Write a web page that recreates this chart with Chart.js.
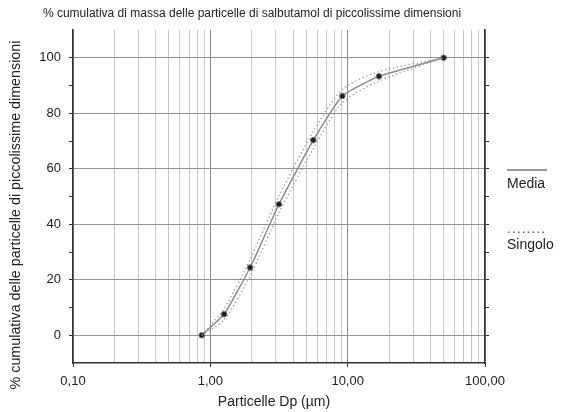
<!DOCTYPE html>
<html>
<head>
<meta charset="utf-8">
<script src="https://cdn.jsdelivr.net/npm/chart.js@4"></script>
<style>
  html, body { margin: 0; padding: 0; background: #fff; }
  #wrap { width: 567px; height: 412px; position: relative; }
</style>
</head>
<body>
<div id="wrap"><canvas id="chart" width="567" height="412"></canvas></div>
<script>
// diametri (µm) e % cumulativa
const diameters = [0.865, 1.26, 1.95, 3.16, 5.62, 9.15, 16.9, 50];
const media = [0, 7.6, 24.4, 47.2, 70.3, 86.2, 93.3, 100];
const singolo1 = [0, 9.6, 27.4, 50.2, 73.4, 88.6, 95, 100];
const singolo2 = [0, 5.6, 21.4, 44.2, 67.2, 83.8, 91.6, 100];

const xLabelValues = [0.1, 1, 10, 100];
const xLabelTexts = ['0,10', '1,00', '10,00', '100,00'];
const xDecades = [0.1, 1, 10];
const yLabelValues = [0, 20, 40, 60, 80, 100];

const titleText = '% cumulativa di massa delle particelle di salbutamol di piccolissime dimensioni';
const yTitleText = '% cumulativa delle particelle di piccolissime dimensioni';
const xTitleText = 'Particelle Dp (µm)';
const legendLabels = ['Media', 'Singolo'];

const FONT = '"Liberation Sans", Arial, sans-serif';

// tick positions for log axis: 1..9 in each decade plus 100
const xTicks = [];
xDecades.forEach(d => { for (let m = 1; m <= 9; m++) xTicks.push(+(d * m).toPrecision(3)); });
xTicks.push(100);

const near = (a, b) => Math.abs(a - b) < 1e-9 * Math.max(1, Math.abs(b));
const isMajorX = v => xLabelValues.some(l => near(v, l));

const pts = ys => diameters.map((d, i) => ({ x: d, y: ys[i] }));

const textPlugin = {
  id: 'texts',
  afterDraw(chart) {
    const c = chart.ctx;
    c.save();
    c.fillStyle = '#222';
    // title
    c.font = '12px ' + FONT;
    c.textAlign = 'center';
    c.textBaseline = 'middle';
    c.fillText(titleText, 252, 14);
    // x title
    c.font = '14px ' + FONT;
    c.fillText(xTitleText, 274, 402);
    // y title
    c.save();
    c.translate(16, 215);
    c.rotate(-Math.PI / 2);
    c.font = '14.3px ' + FONT;
    c.fillText(yTitleText, 0, 0);
    c.restore();
    // legend
    c.strokeStyle = '#777';
    c.lineWidth = 1.5;
    c.beginPath();
    c.moveTo(507, 170);
    c.lineTo(547, 170);
    c.stroke();
    c.textAlign = 'left';
    c.fillText(legendLabels[0], 507, 184);
    c.fillStyle = '#555';
    c.font = '14px ' + FONT;
    c.letterSpacing = '1px';
    c.fillText('........', 507, 229);
    c.letterSpacing = '0px';
    c.fillStyle = '#222';
    c.fillText(legendLabels[1], 507, 245);
    c.restore();
  }
};

const dotted = {
  showLine: true,
  borderColor: '#8a8a8a',
  borderWidth: 1.2,
  borderDash: [1.2, 2.8],
  pointRadius: 0,
  tension: 0.25,
  fill: false
};

new Chart(document.getElementById('chart').getContext('2d'), {
  type: 'scatter',
  data: {
    datasets: [
      Object.assign({ label: 'Singolo 1', data: pts(singolo1) }, dotted),
      Object.assign({ label: 'Singolo 2', data: pts(singolo2) }, dotted),
      {
        label: 'Media',
        data: pts(media),
        showLine: true,
        borderColor: '#8a8a8a',
        borderWidth: 1.5,
        tension: 0.15,
        pointRadius: 2.8,
        pointBackgroundColor: '#1e1e1e',
        pointBorderColor: '#777',
        pointBorderWidth: 1
      }
    ]
  },
  options: {
    responsive: false,
    animation: false,
    layout: { padding: { top: 30, left: 0, right: 0, bottom: 0 } },
    plugins: { legend: { display: false }, tooltip: { enabled: false } },
    scales: {
      x: {
        type: 'logarithmic',
        position: 'bottom',
        min: 0.1,
        max: 100,
        afterBuildTicks: s => { s.ticks = xTicks.map(v => ({ value: v, major: isMajorX(v) })); },
        afterFit: s => { s.height = 49; },
        ticks: {
          autoSkip: false,
          maxRotation: 0,
          padding: 7,
          color: '#222',
          font: { family: FONT, size: 13 },
          callback: v => {
            const i = xLabelValues.findIndex(l => near(v, l));
            return i >= 0 ? xLabelTexts[i] : '';
          }
        },
        grid: {
          lineWidth: 1,
          tickLength: 4,
          color: ctx => (ctx.tick && isMajorX(ctx.tick.value)) ? '#8c8c8c' : '#c8c8c8',
          tickColor: ctx => (ctx.tick && isMajorX(ctx.tick.value)) ? '#333' : 'rgba(0,0,0,0)'
        },
        border: { color: '#333', width: 1.5 }
      },
      y: {
        type: 'linear',
        position: 'left',
        min: -10,
        max: 110,
        afterFit: s => { s.width = 73; },
        ticks: {
          stepSize: 10,
          padding: 8,
          color: '#222',
          font: { family: FONT, size: 13 },
          callback: v => yLabelValues.includes(v) ? String(v) : ''
        },
        grid: {
          tickLength: 4,
          color: ctx => (ctx.tick && yLabelValues.includes(ctx.tick.value)) ? '#939393' : 'rgba(0,0,0,0)',
          tickColor: ctx => (ctx.tick && ctx.tick.value >= 0 && ctx.tick.value <= 100) ? '#333' : 'rgba(0,0,0,0)'
        },
        border: { color: '#333', width: 1.5 }
      },
      y2: {
        type: 'linear',
        position: 'right',
        min: -10,
        max: 110,
        afterFit: s => { s.width = 82; },
        ticks: { stepSize: 10, callback: () => '' },
        grid: {
          drawOnChartArea: false,
          tickLength: 4,
          tickColor: ctx => (ctx.tick && ctx.tick.value >= 0 && ctx.tick.value <= 100) ? '#333' : 'rgba(0,0,0,0)'
        },
        border: { color: '#333', width: 1.5 }
      }
    }
  },
  plugins: [textPlugin]
});
</script>
</body>
</html>
